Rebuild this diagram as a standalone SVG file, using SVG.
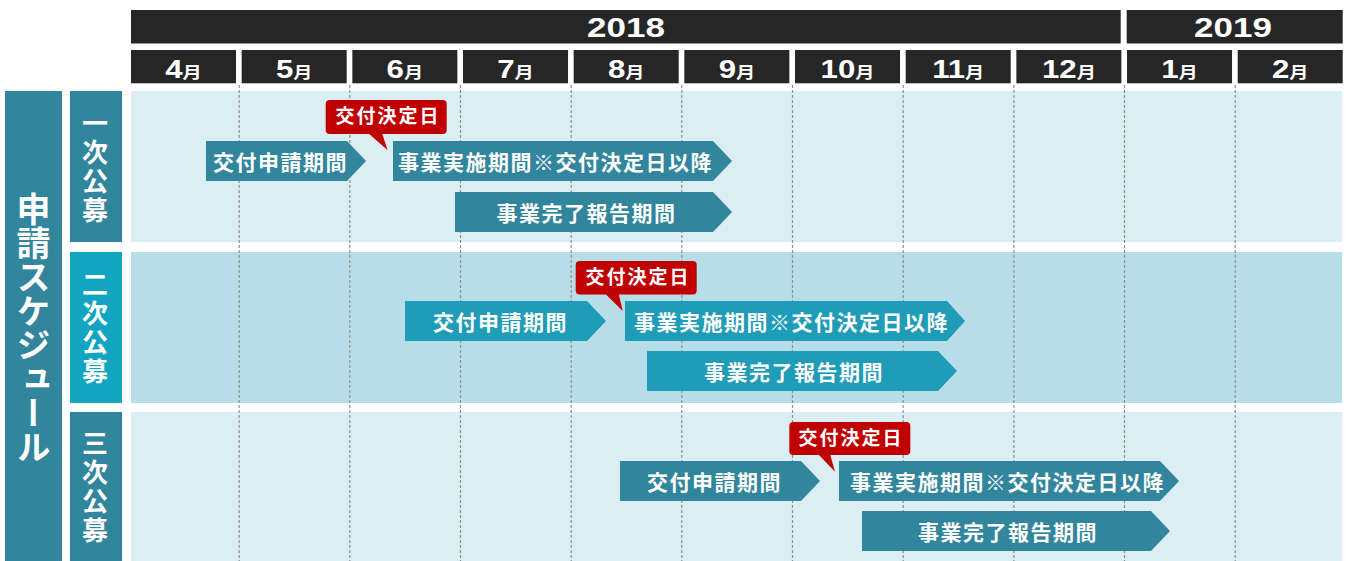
<svg xmlns="http://www.w3.org/2000/svg" width="1346" height="561" viewBox="0 0 1346 561">
<style>
.hdr{fill:#262626}
.yr{font-family:"Liberation Sans",Arial,sans-serif;font-weight:bold;font-size:28px;fill:#fff}
.mn{font-family:"Liberation Sans",Arial,sans-serif;font-weight:bold;font-size:26px;fill:#fff}
.mj{font-family:"Noto Sans CJK JP",sans-serif;font-weight:bold;font-size:16px}
.pl{fill:#daeef3}
.pd{fill:#b7dde8}
.dash{stroke:#8f8f8f;stroke-width:1.2;stroke-dasharray:3 2;fill:none}
.lab{fill:#31859c}
.lab2{fill:#12a5c2}
.vt{font-family:"Noto Sans CJK JP",sans-serif;font-weight:bold;fill:#fff;writing-mode:vertical-rl;text-anchor:middle}
.ar{fill:#31859c}
.ar2{fill:#1f9cb7}
.at{font-family:"Noto Sans CJK JP",sans-serif;font-weight:bold;font-size:21px;letter-spacing:1.5px;fill:#fff;text-anchor:middle}
.co{fill:#c00000}
.ct{font-family:"Noto Sans CJK JP",sans-serif;font-weight:bold;font-size:19px;letter-spacing:2px;fill:#fff;text-anchor:middle}
</style>
<g id="header">
<rect class="hdr" x="131" y="10" width="989.7" height="33.5"/>
<rect class="hdr" x="1126.7" y="10" width="216" height="33.5"/>
<text class="yr" text-anchor="middle" transform="translate(626,36.7) scale(1.25,1)">2018</text>
<text class="yr" text-anchor="middle" transform="translate(1233,36.7) scale(1.25,1)">2019</text>
<rect class="hdr" x="131" y="50" width="105" height="33.3"/>
<rect class="hdr" x="241.67" y="50" width="105" height="33.3"/>
<rect class="hdr" x="352.34" y="50" width="105" height="33.3"/>
<rect class="hdr" x="463.01" y="50" width="105" height="33.3"/>
<rect class="hdr" x="573.68" y="50" width="105" height="33.3"/>
<rect class="hdr" x="684.35" y="50" width="105" height="33.3"/>
<rect class="hdr" x="795.02" y="50" width="105" height="33.3"/>
<rect class="hdr" x="905.69" y="50" width="105" height="33.3"/>
<rect class="hdr" x="1016.36" y="50" width="105" height="33.3"/>
<rect class="hdr" x="1127.03" y="50" width="105" height="33.3"/>
<rect class="hdr" x="1237.7" y="50" width="105" height="33.3"/>
<text class="mn" text-anchor="middle" transform="translate(183.5,77.5) scale(1.2,1)">4<tspan class="mj">月</tspan></text>
<text class="mn" text-anchor="middle" transform="translate(294.2,77.5) scale(1.2,1)">5<tspan class="mj">月</tspan></text>
<text class="mn" text-anchor="middle" transform="translate(404.8,77.5) scale(1.2,1)">6<tspan class="mj">月</tspan></text>
<text class="mn" text-anchor="middle" transform="translate(515.5,77.5) scale(1.2,1)">7<tspan class="mj">月</tspan></text>
<text class="mn" text-anchor="middle" transform="translate(626.2,77.5) scale(1.2,1)">8<tspan class="mj">月</tspan></text>
<text class="mn" text-anchor="middle" transform="translate(736.9,77.5) scale(1.2,1)">9<tspan class="mj">月</tspan></text>
<text class="mn" text-anchor="middle" transform="translate(847.5,77.5) scale(1.2,1)">10<tspan class="mj">月</tspan></text>
<text class="mn" text-anchor="middle" transform="translate(958.2,77.5) scale(1.2,1)">11<tspan class="mj">月</tspan></text>
<text class="mn" text-anchor="middle" transform="translate(1068.9,77.5) scale(1.2,1)">12<tspan class="mj">月</tspan></text>
<text class="mn" text-anchor="middle" transform="translate(1179.5,77.5) scale(1.2,1)">1<tspan class="mj">月</tspan></text>
<text class="mn" text-anchor="middle" transform="translate(1290.2,77.5) scale(1.2,1)">2<tspan class="mj">月</tspan></text>
</g>
<g id="panels">
<rect class="pl" x="131" y="91" width="1211" height="151"/>
<rect class="pd" x="131" y="252" width="1211" height="151"/>
<rect class="pl" x="131" y="412" width="1211" height="149"/>
</g>
<g id="gridlines">
<path class="dash" d="M239.2 85V561M349.8 85V561M460.5 85V561M571.2 85V561M681.8 85V561M792.5 85V561M903.2 85V561M1013.9 85V561M1124.5 85V561M1235.2 85V561"/>
</g>
<g id="label-main">
<rect class="lab" x="5" y="91" width="57" height="470"/>
<text class="vt" x="33.5" y="328" font-size="34">申請スケジュール</text>
</g>
<g id="label-1">
<rect class="lab" x="70" y="91" width="52" height="151"/>
<text class="vt" x="95" y="168" font-size="26" letter-spacing="3">一次公募</text>
</g>
<g id="label-2">
<rect class="lab2" x="70" y="252" width="52" height="151"/>
<text class="vt" x="95" y="329" font-size="26" letter-spacing="3">二次公募</text>
</g>
<g id="label-3">
<rect class="lab" x="70" y="412" width="52" height="149"/>
<text class="vt" x="95" y="488" font-size="26" letter-spacing="3">三次公募</text>
</g>
<g id="row1">
<g id="r1-apply"><path class="ar" d="M206 141H347L366 161L347 181H206Z"/><text class="at" x="280.5" y="169.7">交付申請期間</text></g>
<g id="r1-exec"><path class="ar" d="M393 141H713L732 161L713 181H393Z"/><text class="at" x="555.5" y="169.7">事業実施期間※交付決定日以降</text></g>
<g id="r1-report"><path class="ar" d="M455 192H713L732 212L713 232H455Z"/><text class="at" x="586.5" y="220.7">事業完了報告期間</text></g>
<g id="r1-callout"><rect class="co" x="325.7" y="100" width="121" height="34" rx="4"/><path class="co" d="M368 133H382L387.5 150Z"/><text class="ct" x="388" y="123">交付決定日</text></g>
</g>
<g id="row2">
<g id="r2-apply"><path class="ar2" d="M405 301H587L606 321L587 341H405Z"/><text class="at" x="500.5" y="329.7">交付申請期間</text></g>
<g id="r2-exec"><path class="ar2" d="M625 301H947L965 321L947 341H625Z"/><text class="at" x="791.5" y="329.7">事業実施期間※交付決定日以降</text></g>
<g id="r2-report"><path class="ar2" d="M647 351H938L957 371L938 391H647Z"/><text class="at" x="794" y="379.7">事業完了報告期間</text></g>
<g id="r2-callout"><rect class="co" x="575.7" y="261" width="121" height="33.5" rx="4"/><path class="co" d="M604.5 293H618.5L622.7 311Z"/><text class="ct" x="638" y="284">交付決定日</text></g>
</g>
<g id="row3">
<g id="r3-apply"><path class="ar" d="M620 461H801L820 481L801 501H620Z"/><text class="at" x="714.5" y="489.7">交付申請期間</text></g>
<g id="r3-exec"><path class="ar" d="M839 461H1160L1179 481L1160 501H839Z"/><text class="at" x="1007.5" y="489.7">事業実施期間※交付決定日以降</text></g>
<g id="r3-report"><path class="ar" d="M862 511H1151L1170 531L1151 551H862Z"/><text class="at" x="1008" y="539.7">事業完了報告期間</text></g>
<g id="r3-callout"><rect class="co" x="789.3" y="422" width="121" height="33" rx="4"/><path class="co" d="M818 454H830L835 471.7Z"/><text class="ct" x="851" y="445">交付決定日</text></g>
</g>
</svg>
